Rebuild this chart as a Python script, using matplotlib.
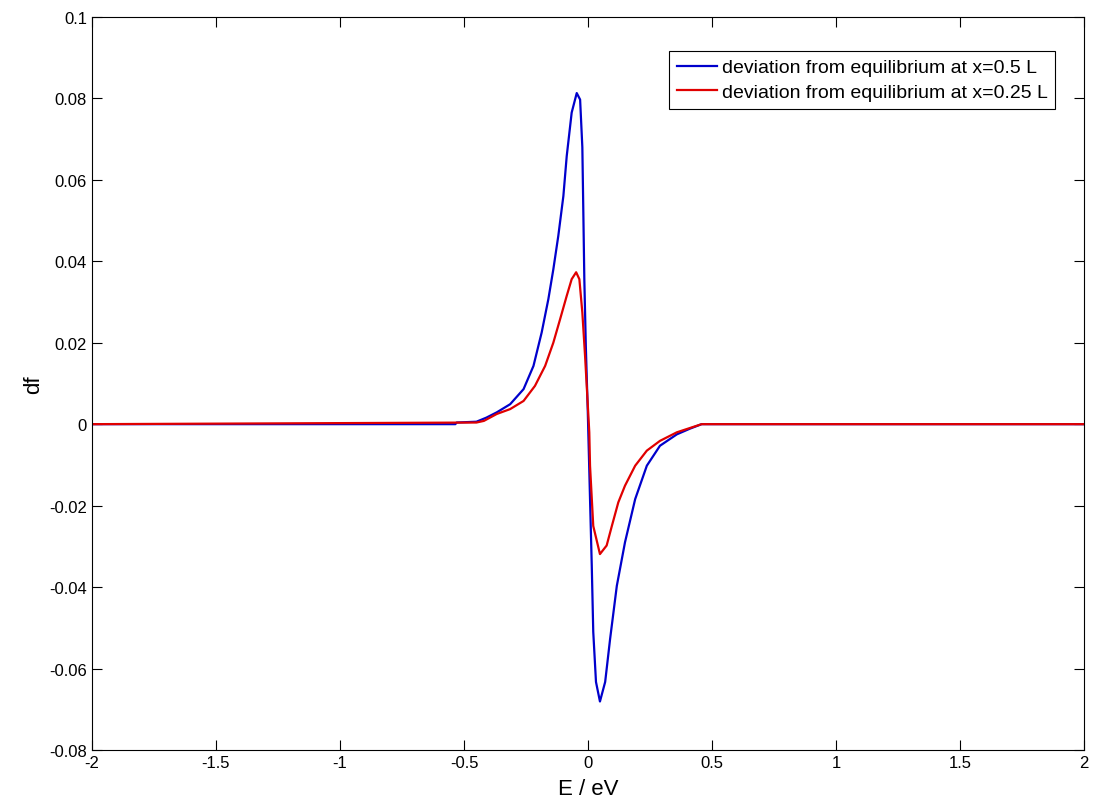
import matplotlib
matplotlib.use("Agg")
import matplotlib.pyplot as plt

plt.rcParams['font.family'] = ['Liberation Sans', 'DejaVu Sans']

# Values
e_mid = [-2.0, -0.535, -0.53, -0.45, -0.41, -0.368, -0.314, -0.26, -0.22, -0.187, -0.16, -0.14, -0.12,
         -0.0995, -0.086, -0.066, -0.0456, -0.032, -0.023, -0.019, -0.015, -0.009, -0.001, 0.008,
         0.015, 0.021, 0.032, 0.048, 0.069, 0.089, 0.116, 0.149, 0.19, 0.237, 0.29, 0.358,
         0.411, 0.458, 2.0]
df_mid = [0.0, 0.0, 0.0004, 0.0006, 0.0016, 0.0029, 0.0049, 0.0086, 0.0143, 0.0225, 0.0307, 0.038,
          0.0462, 0.056, 0.0658, 0.0765, 0.0813, 0.0797, 0.068, 0.052, 0.0356, 0.0192, 0.0029,
          -0.0184, -0.0348, -0.051, -0.0633, -0.0681, -0.0633, -0.0527, -0.0397, -0.029, -0.0184,
          -0.0102, -0.0053, -0.0025, -0.0011, 0.0, 0.0]

e_quarter = [-2.0, -0.45, -0.42, -0.368, -0.314, -0.26, -0.214, -0.173, -0.14, -0.113, -0.086,
             -0.066, -0.048, -0.035, -0.023, -0.012, -0.003, 0.005, 0.008, 0.021, 0.048, 0.075,
             0.096, 0.122, 0.149, 0.19, 0.237, 0.29, 0.358, 0.458, 2.0]
df_quarter = [0.0, 0.0004, 0.0008, 0.0025, 0.0037, 0.0057, 0.0094, 0.0143, 0.020, 0.0257, 0.0315,
              0.0356, 0.0373, 0.0356, 0.0274, 0.0167, 0.0069, -0.002, -0.0102, -0.025, -0.0319,
              -0.0298, -0.025, -0.0192, -0.0151, -0.0102, -0.0065, -0.0041, -0.002, 0.0, 0.0]

x_ticks = [-2, -1.5, -1, -0.5, 0, 0.5, 1, 1.5, 2]
x_labels = ['-2', '-1.5', '-1', '-0.5', '0', '0.5', '1', '1.5', '2']
y_ticks = [-0.08, -0.06, -0.04, -0.02, 0, 0.02, 0.04, 0.06, 0.08, 0.1]
y_labels = ['-0.08', '-0.06', '-0.04', '-0.02', '0', '0.02', '0.04', '0.06', '0.08', '0.1']

fig = plt.figure(figsize=(11.04, 8.03), dpi=100)
ax = fig.add_axes([0.0833, 0.0648, 0.8987, 0.9129])

ax.plot(e_mid, df_mid, color='#0000cc', lw=1.6, label='deviation from equilibrium at x=0.5 L')
ax.plot(e_quarter, df_quarter, color='#e00000', lw=1.6, label='deviation from equilibrium at x=0.25 L')

ax.set_xlim(-2, 2)
ax.set_ylim(-0.08, 0.1)
ax.set_xticks(x_ticks)
ax.set_xticklabels(x_labels)
ax.set_yticks(y_ticks)
ax.set_yticklabels(y_labels)
ax.tick_params(direction='in', top=True, right=True, labelsize=12, length=7.2)
ax.set_xlabel('E / eV', fontsize=16, labelpad=6)
ax.set_ylabel('df', fontsize=16, labelpad=4)

leg = ax.legend(loc='upper right', bbox_to_anchor=(0.971, 0.9536), fontsize=14,
                fancybox=False, framealpha=1, edgecolor='black', handlelength=2.05,
                borderpad=0.4, labelspacing=0.35, handletextpad=0.25, borderaxespad=0)
leg.get_frame().set_linewidth(0.8)

fig.savefig('out.png', dpi=100)
